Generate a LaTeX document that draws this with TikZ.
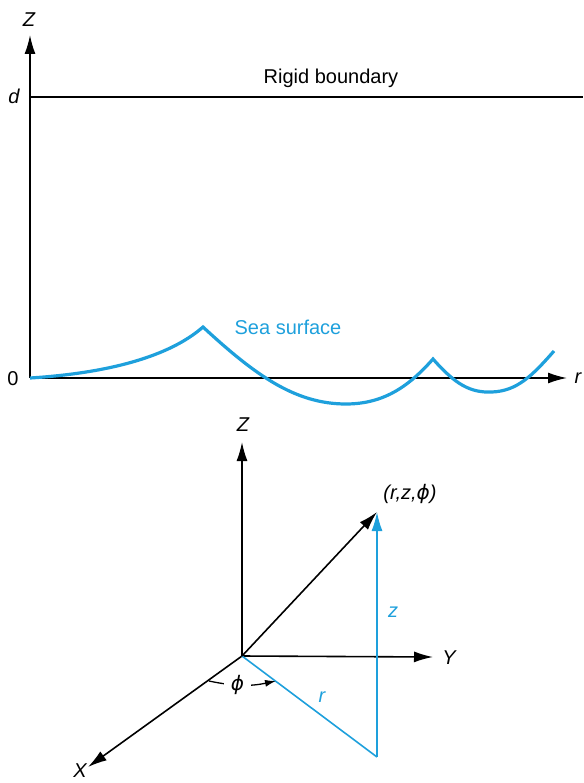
\documentclass[tikz,border=0pt]{standalone}
\usepackage{fontspec}
\setmainfont{Liberation Sans}
\newfontfamily\greekfont{DejaVu Sans}
\usepackage{tikz}
\usetikzlibrary{arrows.meta}
\definecolor{seablue}{RGB}{30,160,220}
\newcommand{\phisym}{{\greekfont\itshape ϕ}}
\tikzset{%
  >={Latex[width=11pt,length=19pt]},
  % Specifications for style of lines and labels:
       axis/.style = {line width=1.6pt, black},
        sea/.style = {line width=3.2pt, seablue},
     seavec/.style = {line width=1.6pt, seablue},
      label/.style = {font=\fontsize{20}{22}\selectfont\itshape, inner sep=0pt},
    seatext/.style = {font=\fontsize{20}{22}\selectfont, text=seablue, inner sep=0pt},
   anglearr/.style = {line width=1.3pt, ->, >={Latex[width=7pt,length=11pt]}},
}
\begin{document}
\begin{tikzpicture}[x=1pt, y=-1pt]
    \useasboundingbox (0,0) rectangle (583,783);

    % upper picture: sea surface below a rigid boundary
    \coordinate (orig)  at (30,378);
    \coordinate (ztop)  at (30,35);
    \coordinate (rend)  at (567,378);
    \coordinate (dleft) at (30,97);
    \coordinate (dright) at (583,97);

    \node (zname)  [label] at (29,20)  {Z};
    \node (dname)  [label] at (14,96)  {d};
    \node (zero)   [label, font=\fontsize{20}{22}\selectfont] at (13,379) {0};
    \node (rname)  [label] at (578,378) {r};
    \node (rigid)  [label, font=\fontsize{20}{22}\selectfont] at (331,78) {Rigid boundary};
    \node (seasurf) [seatext] at (288,327) {Sea surface};

    \draw[axis, ->] (orig) -- (ztop);
    \draw[axis, ->] (orig) -- (rend);
    \draw[axis]     (dleft) -- (dright);

    \draw[sea] (orig) .. controls (110,373) and (170,356) .. (203,327)
                      .. controls (255,375) and (295,404) .. (346,404)
                      .. controls (385,404) and (410,385) .. (433,359)
                      .. controls (455,384) and (470,393) .. (492,392)
                      .. controls (517,391) and (532,376) .. (554,351);

    % lower picture: cylindrical coordinates
    \coordinate (O)    at (242,656);
    \coordinate (Ztip) at (242,442);
    \coordinate (Ytip) at (433,657);
    \coordinate (Xtip) at (88,767);
    \coordinate (P)    at (377,512);
    \coordinate (Q)    at (377,757);
    \coordinate (phiA) at (209,681);
    \coordinate (phiB) at (276,681);

    \node (Zname) [label] at (243,425) {Z};
    \node (Yname) [label] at (449,658) {Y};
    \node (Xname) [label] at (80,771)  {X};
    \node (Pname) [label] at (410,494) {(r,z,\phisym)};
    \node (zlen)  [label, text=seablue] at (393,612) {z};
    \node (rlen)  [label, text=seablue] at (322,697) {r};

    \draw[axis, ->] (O) -- (Ztip);
    \draw[axis, ->] (O) -- (Ytip);
    \draw[axis, ->] (O) -- (Xtip);
    \draw[seavec]     (O) -- (Q);
    \draw[seavec, ->] (Q) -- (P);
    \draw[axis, ->] (O) -- (P);

    \draw[anglearr] (phiA) to[bend right=12]
        node[pos=0.42, fill=white, inner xsep=7pt, inner ysep=1pt,
             font=\fontsize{20}{22}\selectfont] (phiname) {\phisym} (phiB);

\end{tikzpicture}
\end{document}
